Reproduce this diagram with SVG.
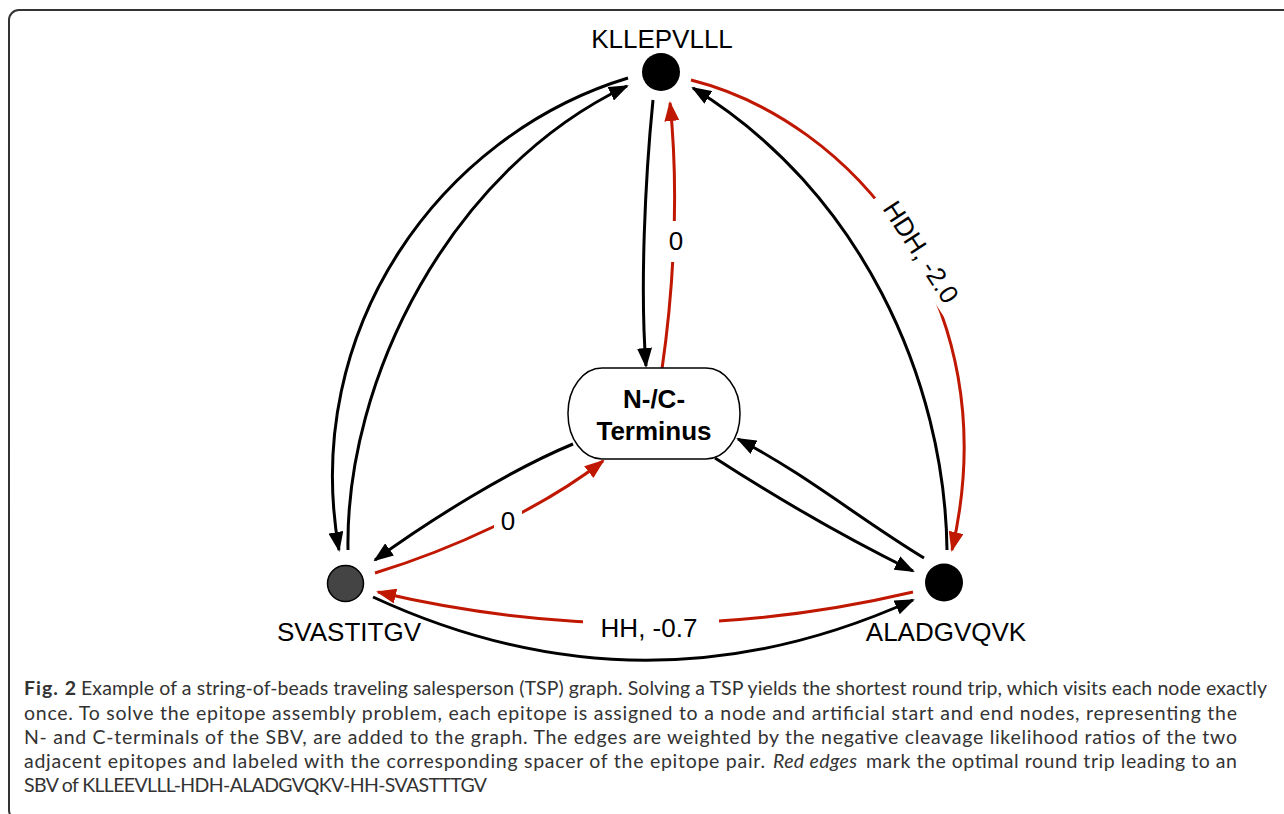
<svg xmlns="http://www.w3.org/2000/svg" width="1284" height="814" viewBox="0 0 1284 814">
<defs>
<style>
.e{fill:none;stroke-width:3}
.k{stroke:#000}
.r{stroke:#c01800}
.lbl{font-family:"Liberation Sans",Arial,sans-serif;font-size:26px;fill:#000}
.b{font-weight:bold}
.cap{font-family:Lato,"Open Sans",sans-serif;font-size:19.5px;fill:#333}
.gap{fill:#fff}
</style>
<marker id="ak" markerUnits="userSpaceOnUse" markerWidth="20" markerHeight="15" refX="18" refY="7.5" orient="auto"><path d="M0,0 L20,7.5 L0,15 z" fill="#000"/></marker>
<marker id="ar" markerUnits="userSpaceOnUse" markerWidth="20" markerHeight="15" refX="18" refY="7.5" orient="auto"><path d="M0,0 L20,7.5 L0,15 z" fill="#c01800"/></marker>
</defs>
<rect x="9" y="10" width="1290" height="810" rx="10" fill="none" stroke="#333" stroke-width="2"/>
<g id="connectors">
<path class="e k" d="M653,100 C645,180 640,290 646,366" marker-end="url(#ak)"/>
<path class="e r" d="M662,369 C672,300 680,200 670,103" marker-end="url(#ar)"/>
<path class="e k" d="M628,78 C440,135 300,330 339,550" marker-end="url(#ak)"/>
<path class="e k" d="M348,550 C345,380 450,170 627,86" marker-end="url(#ak)"/>
<path class="e k" d="M947,550 C945,380 860,190 693,88" marker-end="url(#ak)"/>
<path class="e r" d="M691,80 C850,120 1010,300 952,550" marker-end="url(#ar)"/>
<path class="e k" d="M573,444 C510,470 430,520 375,560" marker-end="url(#ak)"/>
<path class="e r" d="M375,573 C450,550 540,510 603,461" marker-end="url(#ar)"/>
<path class="e k" d="M715,458 C780,500 850,540 913,571" marker-end="url(#ak)"/>
<path class="e k" d="M924,558 C864,522 804,473 738,439" marker-end="url(#ak)"/>
<path class="e r" d="M913,592 Q645,655 378,592" marker-end="url(#ar)"/>
<path class="e k" d="M373,597 Q643,722 913,600" marker-end="url(#ak)"/>
<rect class="gap" x="664" y="221" width="24" height="41"/>
<text class="lbl" x="676" y="250" text-anchor="middle">0</text>
<rect class="gap" x="494" y="505" width="28" height="32"/>
<text class="lbl" x="508" y="530" text-anchor="middle">0</text>
<rect class="gap" x="583" y="609" width="136" height="32"/>
<text class="lbl" x="649" y="637" text-anchor="middle">HH, -0.7</text>
<g transform="translate(921,252) rotate(57)">
<rect class="gap" x="-70" y="-16" width="140" height="32"/>
<text class="lbl" x="0" y="9" text-anchor="middle">HDH, -2.0</text>
</g>
</g>
<g id="node-KLLEPVLLL">
<circle cx="661" cy="72" r="19" fill="#000"/>
<text class="lbl" x="662" y="48" text-anchor="middle">KLLEPVLLL</text>
</g>
<g id="node-SVASTITGV">
<circle cx="345.5" cy="583.5" r="18" fill="#444" stroke="#000" stroke-width="1.5"/>
<text class="lbl" x="349" y="641" text-anchor="middle">SVASTITGV</text>
</g>
<g id="node-ALADGVQVK">
<circle cx="944" cy="582.5" r="19" fill="#000"/>
<text class="lbl" x="946" y="641" text-anchor="middle">ALADGVQVK</text>
</g>
<g id="node-terminus">
<rect x="568" y="368" width="172" height="91" rx="34" ry="45" fill="#fff" stroke="#000" stroke-width="1.5"/>
<text class="lbl b" x="654" y="408" text-anchor="middle">N-/C-</text>
<text class="lbl b" x="654" y="440" text-anchor="middle">Terminus</text>
</g>
<g id="caption">
<text class="cap b" x="24" y="695" textLength="52" lengthAdjust="spacing">Fig. 2</text>
<text class="cap" x="81" y="695" textLength="1186" lengthAdjust="spacing">Example of a string-of-beads traveling salesperson (TSP) graph. Solving a TSP yields the shortest round trip, which visits each node exactly</text>
<text class="cap" x="24" y="720" textLength="1213" lengthAdjust="spacing">once. To solve the epitope assembly problem, each epitope is assigned to a node and artificial start and end nodes, representing the</text>
<text class="cap" x="24" y="744" textLength="1213" lengthAdjust="spacing">N- and C-terminals of the SBV, are added to the graph. The edges are weighted by the negative cleavage likelihood ratios of the two</text>
<text class="cap" x="24" y="768" textLength="741" lengthAdjust="spacing">adjacent epitopes and labeled with the corresponding spacer of the epitope pair.</text>
<text class="cap" x="773" y="768" font-style="italic" textLength="84" lengthAdjust="spacing">Red edges</text>
<text class="cap" x="866" y="768" textLength="371" lengthAdjust="spacing">mark the optimal round trip leading to an</text>
<text class="cap" x="24" y="792" textLength="463" lengthAdjust="spacing">SBV of KLLEEVLLL-HDH-ALADGVQKV-HH-SVASTTTGV</text>
</g>
</svg>
